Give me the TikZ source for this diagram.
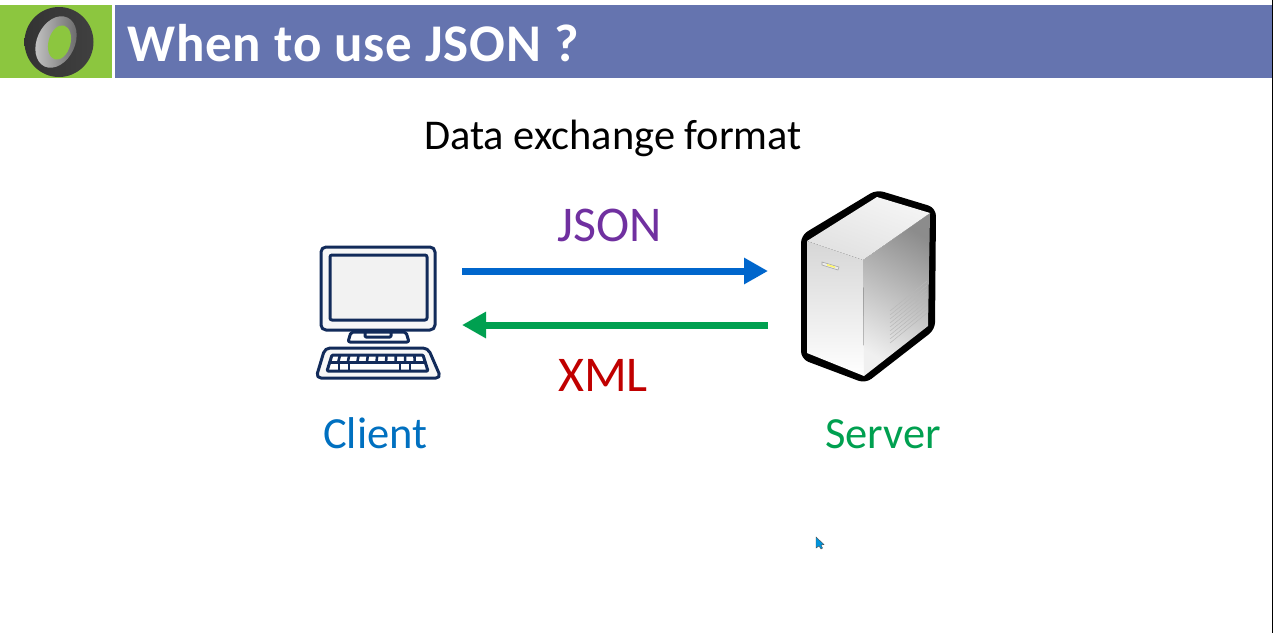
\documentclass[tikz,border=0pt]{standalone}
\usepackage{fontspec}
\setmainfont{Carlito}
\newfontfamily\titlefont[LetterSpace=1.7]{Carlito}
\usetikzlibrary{arrows.meta}
\definecolor{barblue}{HTML}{6574AF}
\definecolor{bargreen}{HTML}{8CC63F}
\definecolor{navy}{HTML}{122B5A}
\definecolor{jsonpurple}{HTML}{7030A0}
\definecolor{xmlred}{HTML}{C00000}
\definecolor{clientblue}{HTML}{0070C0}
\definecolor{servergreen}{HTML}{00A050}
\definecolor{arrowblue}{HTML}{0066CC}
\tikzset{
  lbl/.style={inner sep=0pt,anchor=base west},
  lblbig/.style={lbl,font=\fontsize{50}{50}\selectfont},
  lblmid/.style={lbl,font=\fontsize{44.5}{45}\selectfont},
  flow/.style={line width=7pt,-{Triangle[length=24pt,width=25pt]}},
  pc/.style={draw=navy,line width=3pt,fill=#1,line join=round},
  pc/.default={white},
  keyline/.style={draw=navy,line width=2.6pt},
  srvline/.style={black,line width=6pt,line join=round,rounded corners=6pt}
}
\begin{document}
\begin{tikzpicture}[x=1pt,y=-1pt]
\useasboundingbox (0,0) rectangle (1273,633);
\fill[white] (0,0) rectangle (1273,633);
% header
\fill[bargreen] (0,5) rectangle (112,78);
\fill[barblue] (115,5) rectangle (1272,78);
\fill[black] (1272,0) rectangle (1273,633);
% logo
\shade[left color=black!80,middle color=black!97,right color=black!75] (59,42) ellipse (34.5 and 35);
\begin{scope}[shift={(56,42)},rotate=-25]
  \shade[left color=black!22,right color=black!60] (0,0) ellipse (19 and 27);
\end{scope}
\begin{scope}[shift={(59.5,42.5)},rotate=-15]
  \fill[bargreen] (0,0) ellipse (11 and 17.5);
\end{scope}
\node[lbl,text=white,font=\titlefont\bfseries\fontsize{53}{53}\selectfont] (title) at (127,61) {When to use JSON ?};
\node[lbl,text=black,font=\fontsize{42.4}{43}\selectfont] (subtitle) at (424,149) {Data exchange format};
% computer
\draw[pc={black!3},rounded corners=5pt] (321,247) rectangle (435,330);
\draw[pc={black!5},rounded corners=2pt] (330,255) rectangle (427,320);
\draw[pc,rounded corners=2pt] (351,332) -- (406,332) -- (409,342) -- (348,342) -- cycle;
\draw[pc,rounded corners=1pt] (365,332) rectangle (391,337);
\draw[pc={black!3},rounded corners=5pt] (325,348) -- (428,348) -- (441,378) -- (316,378) -- cycle;
\draw[pc,rounded corners=1pt] (332,355) -- (423,355) -- (428,371) -- (327,371) -- cycle;
\foreach \t in {0,...,8} \draw[keyline] ({340+\t*9.3},355) -- ({338+\t*9.6},363);
\draw[keyline] (329.5,362.5) -- (425.5,362.5);
\foreach \t in {339,349,400,410} \draw[keyline] (\t,362.5) -- (\t,371);
% server
\fill[white,srvline,draw=black] (804,237) -- (877,193) -- (933,210) -- (932,328) -- (865,380) -- (804,357) -- cycle;
\shade[top color=black!16,bottom color=white] (807,241) -- (863,260) -- (864,376) -- (807,353) -- cycle;
\shade[top color=black!45,bottom color=black!6,shading angle=-30] (863,260) -- (930,213) -- (928,326) -- (864,376) -- cycle;
\shade[left color=black!4,right color=black!12,shading angle=-20] (807,241) -- (877,197) -- (930,213) -- (863,260) -- cycle;
\foreach \t in {0,...,8} \draw[black!28,line width=.5pt] (890,{343-\t*4}) -- (927,{313-\t*4});
\draw[black!35,fill=black!8,line width=.6pt] (822,262) -- (839,267) -- (838,270) -- (822,265) -- cycle;
\fill[yellow!60!white] (827,264) -- (835,266.5) -- (835,268) -- (827,265.5) -- cycle;
% flows
\coordinate (jsonA) at (462,271);
\coordinate (jsonB) at (768,271);
\coordinate (xmlA) at (768,325);
\coordinate (xmlB) at (462,325);
\draw[flow,arrowblue] (jsonA) -- (jsonB);
\draw[flow,servergreen] (xmlA) -- (xmlB);
\node[lblbig,text=jsonpurple] (json) at (557,241) {JSON};
\node[lblbig,text=xmlred] (xml) at (558,391) {XML};
\node[lblmid,text=clientblue] (client) at (323,448) {Client};
\node[lblmid,text=servergreen] (server) at (825,448) {Server};
% pointer
\fill[arrowblue!70!cyan,draw=black!70,line width=.4pt] (816,537) -- (816,548) -- (819,546) -- (821,549) -- (822.5,548) -- (821,545) -- (824,544.5) -- cycle;
\end{tikzpicture}
\end{document}
